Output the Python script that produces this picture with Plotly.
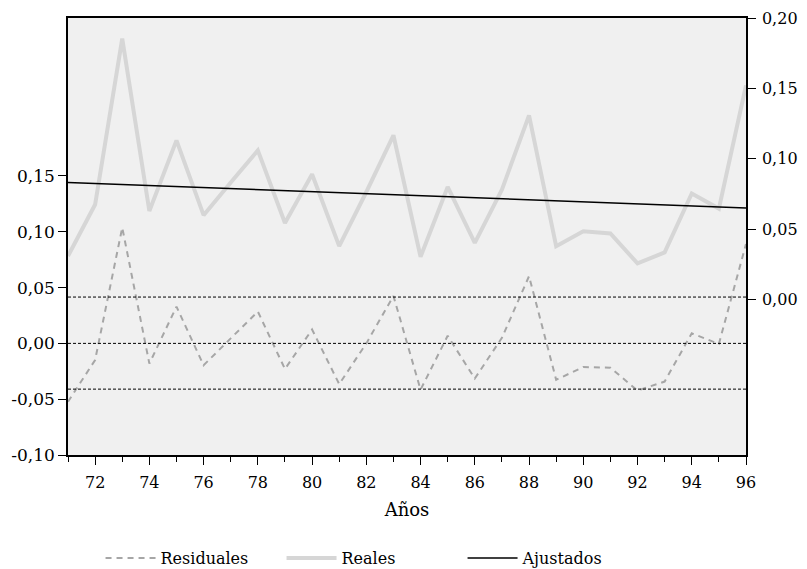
import plotly.graph_objects as go

years = list(range(71, 97))
year_ticks = list(range(72, 97, 2))
year_labels = [str(y) for y in year_ticks]

reales = [0.0308, 0.0675, 0.1854, 0.0629, 0.1131, 0.0599, 0.0831, 0.1060, 0.0544, 0.0890,
          0.0379, 0.0764, 0.1167, 0.0303, 0.0800, 0.0402, 0.0781, 0.1309, 0.0379, 0.0485,
          0.0469, 0.0256, 0.0334, 0.0753, 0.0646, 0.1522]
ajustados = [0.0831, 0.0824, 0.0817, 0.0810, 0.0802, 0.0795, 0.0788, 0.0781, 0.0774, 0.0766,
             0.0759, 0.0752, 0.0745, 0.0738, 0.0730, 0.0723, 0.0716, 0.0709, 0.0702, 0.0694,
             0.0687, 0.0680, 0.0673, 0.0666, 0.0658, 0.0651]
residuales = [-0.0523, -0.0149, 0.1037, -0.0181, 0.0329, -0.0196, 0.0045, 0.0285, -0.0230, 0.0124,
              -0.0365, 0.0000, 0.0425, -0.0415, 0.0068, -0.0315, 0.0050, 0.0602, -0.0326, -0.0212,
              -0.0218, -0.0423, -0.0342, 0.0090, -0.0005, 0.0890]
se_band = [0.0415, 0.0, -0.0410]

left_ticks = [-0.10, -0.05, 0.00, 0.05, 0.10, 0.15]
right_ticks = [0.00, 0.05, 0.10, 0.15, 0.20]

def fmt(v):
    return f"{v:.2f}".replace(".", ",")

FONT = "DejaVu Serif"

fig = go.Figure()
fig.add_trace(go.Scatter(x=years, y=residuales, name="Residuales", mode="lines",
                         line=dict(color="#a6a6a6", width=2, dash="6px,5px"), yaxis="y"))
fig.add_trace(go.Scatter(x=years, y=reales, name="Reales", mode="lines",
                         line=dict(color="#d6d6d6", width=4), yaxis="y2"))
fig.add_trace(go.Scatter(x=years, y=ajustados, name="Ajustados", mode="lines",
                         line=dict(color="#000000", width=1.5), yaxis="y2"))

for v in se_band:
    fig.add_shape(type="line", xref="paper", x0=0, x1=1, yref="y", y0=v, y1=v,
                  line=dict(color="#000000", width=1, dash="3px,2px"), layer="above")

fig.update_layout(
    width=799, height=561,
    margin=dict(l=60, r=61, t=10, b=114, autoexpand=False),
    paper_bgcolor="white", plot_bgcolor="#f0f0f0",
    font=dict(family=FONT, size=16, color="#000000"),
    showlegend=True,
    legend=dict(orientation="h", x=0.048, xanchor="left", y=-0.236, yanchor="middle",
                entrywidth=116, entrywidthmode="pixels", itemwidth=50,
                font=dict(family=FONT, size=16), bgcolor="rgba(0,0,0,0)"),
    xaxis=dict(range=[71, 96], tickmode="array", tickvals=year_ticks, ticktext=year_labels,
               ticks="outside", ticklen=8, tickcolor="#000", showgrid=False, zeroline=False,
               showline=True, linecolor="#000", linewidth=1.5, mirror=True,
               ticklabelstandoff=4,
               tickfont=dict(family=FONT, size=16),
               minor=dict(tickmode="array", tickvals=years, ticks="outside", ticklen=5, tickcolor="#000"),
               title=dict(text="Años", font=dict(family=FONT, size=18), standoff=12)),
    yaxis=dict(range=[-0.10, 0.2915], tickmode="array", tickvals=left_ticks,
               ticktext=[fmt(v) for v in left_ticks], ticks="outside", ticklen=8, tickcolor="#000",
               showgrid=False, zeroline=False, showline=True, linecolor="#000", linewidth=1.5,
               tickfont=dict(family=FONT, size=17)),
    yaxis2=dict(range=[-0.1106, 0.2001], overlaying="y", side="right", tickmode="array",
                tickvals=right_ticks, ticktext=[fmt(v) for v in right_ticks], ticks="outside",
                ticklen=8, tickcolor="#000", showgrid=False, zeroline=False, showline=True,
                linecolor="#000", linewidth=1.5, ticklabelstandoff=3,
                tickfont=dict(family=FONT, size=16)),
)

fig.write_html("out.html")
